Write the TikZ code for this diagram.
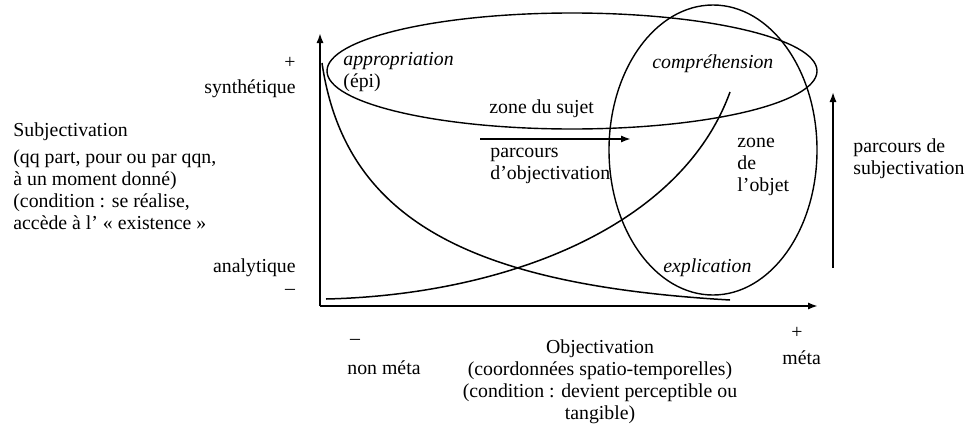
\documentclass[tikz,border=0pt]{standalone}
\usepackage{fontspec}
\setmainfont{Liberation Serif}
\usetikzlibrary{arrows.meta}

\begin{document}
\begin{tikzpicture}[x=.5pt,y=-.5pt,>={Latex[length=5pt,width=3.6pt]},
  lbl/.style={inner sep=0pt,font=\fontsize{9.9}{11}\selectfont},
  lw/.style={lbl,anchor=mid west},
  le/.style={lbl,anchor=mid east},
  blk/.style={lbl,align=left,anchor=north west},
  ax/.style={line width=1.1pt,->},
  crv/.style={line width=.75pt},
  zone/.style={line width=.7pt}]
  \useasboundingbox (0,0) rectangle (967,428);
  % axes
  \coordinate (o) at (320,306);\coordinate (ytop) at (320,33);\coordinate (xend) at (818,306);
  \draw[ax] (o)--(ytop);\draw[ax] (o)--(xend);
  % zones
  \draw[zone] (572,71) ellipse [x radius=122.5pt,y radius=29pt];
  \draw[zone] (713,150) ellipse [x radius=52pt,y radius=72.5pt];
  % curves
  \draw[crv] (322,63) .. controls (345,220) and (470,285) .. (730,300);
  \draw[crv] (326,299) .. controls (500,295) and (680,230) .. (730,92);
  % parcours
  \coordinate (oa) at (480,139);\coordinate (ob) at (631,139);
  \coordinate (sa) at (833,268);\coordinate (sb) at (833,92);
  \draw[->,line width=1pt] (oa)--(ob);\draw[->,line width=.9pt] (sa)--(sb);
  % vertical axis labels
  \node[lbl] (yplus) at (290,63) {+};
  \node[le] (synth) at (296,89) {synthétique};
  \node[lw] (subj) at (13,132) {Subjectivation};
  \node[blk] (subjcond) at (13,149) {(qq part, pour ou par qqn,\\à un moment donné)\\(condition : se réalise,\\accède à l’ «~existence~»};
  \node[le] (analy) at (296,268) {analytique};
  \node[lbl] (yminus) at (290,292) {–};
  % inside
  \node[blk] (appro) at (343,52) {\textit{appropriation}\\(épi)};
  \node[lw] (compr) at (652,64) {\textit{compréhension}};
  \node[lw] (zsujet) at (489,109) {zone du sujet};
  \node[blk] (pobj) at (490,148) {parcours\\d’objectivation};
  \node[blk] (zobjet) at (737,138) {zone\\de\\l’objet};
  \node[lw] (expl) at (663,268) {\textit{explication}};
  \node[blk] (psubj) at (853,138) {parcours de\\subjectivation};
  % horizontal axis labels
  \node[lbl] (xminus) at (355,342) {–};
  \node[lw] (nonmeta) at (347,370) {non méta};
  \node[lbl,align=center,anchor=north] (objec) at (600,339) {Objectivation\\(coordonnées spatio-temporelles)\\(condition : devient perceptible ou\\tangible)};
  \node[lbl] (xplus) at (797,333) {+};
  \node[lw] (meta) at (782,360) {méta};
\end{tikzpicture}
\end{document}
